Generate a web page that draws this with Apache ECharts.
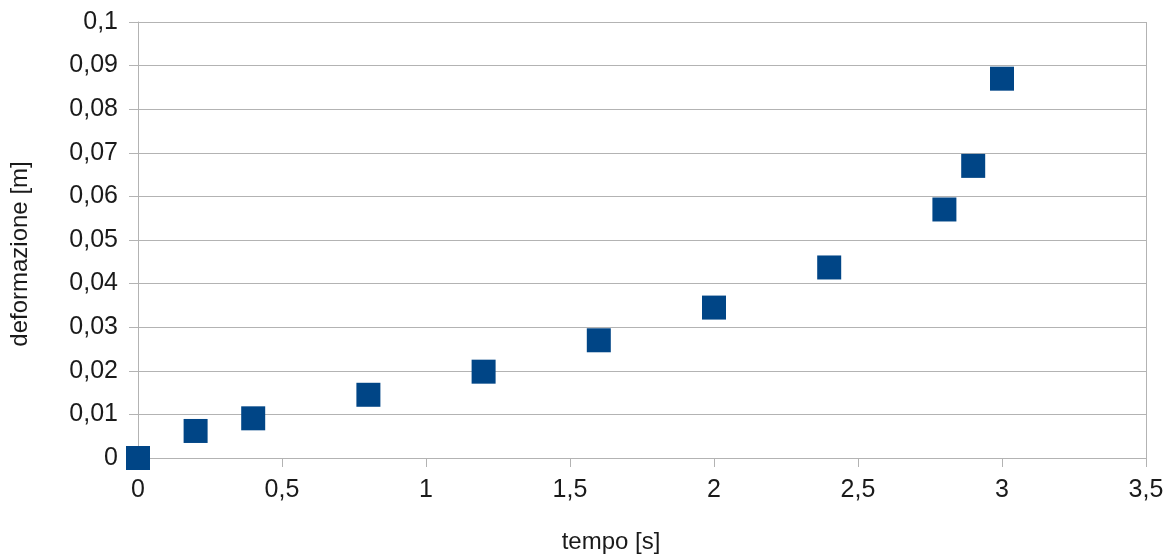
<!DOCTYPE html>
<html>
<head>
<meta charset="utf-8">
<script src="https://cdn.jsdelivr.net/npm/echarts@6/dist/echarts.min.js"></script>
<style>
  html, body { margin: 0; padding: 0; background: #fff; }
  #chart { width: 1174px; height: 559px; }
</style>
</head>
<body>
<div id="chart"></div>
<script>
// tempo [s] vs deformazione [m]
const tempo = [0, 0.2, 0.4, 0.8, 1.2, 1.6, 2.0, 2.4, 2.8, 2.9, 3.0];
const deformazione = [0, 0.0062, 0.0091, 0.0145, 0.0198, 0.027, 0.0345, 0.0437, 0.057, 0.067, 0.087];

const points = tempo.map((t, i) => [t, deformazione[i]]);

// italian decimal comma
function comma(v) {
  return String(Math.round(v * 1000) / 1000).replace('.', ',');
}

const chart = echarts.init(document.getElementById('chart'));
chart.setOption({
  animation: false,
  backgroundColor: '#fff',
  textStyle: { fontFamily: 'Liberation Sans, Arial, sans-serif' },
  grid: { left: 138, top: 22, right: 28, bottom: 100 },
  xAxis: {
    type: 'value',
    min: 0, max: 3.5, interval: 0.5,
    name: 'tempo [s]',
    nameLocation: 'middle',
    nameGap: 72,
    // name sits a bit left of the plot centre in the original
    nameTextStyle: { fontSize: 24, color: '#1a1a1a', padding: [0, 62, 0, 0] },
    axisLine: { show: true, lineStyle: { color: '#b3b3b3' } },
    axisTick: { show: true, length: 9, lineStyle: { color: '#b3b3b3' } },
    axisLabel: { fontSize: 25, color: '#1a1a1a', margin: 20, formatter: comma },
    splitLine: { show: false }
  },
  yAxis: {
    type: 'value',
    min: 0, max: 0.1, interval: 0.01,
    name: 'deformazione [m]',
    nameLocation: 'middle',
    nameGap: 106,
    nameRotate: 90,
    nameTextStyle: { fontSize: 24, color: '#1a1a1a', padding: [0, 28, 0, 0] },
    axisLine: { show: true, lineStyle: { color: '#b3b3b3' } },
    axisTick: { show: true, length: 9, lineStyle: { color: '#b3b3b3' } },
    axisLabel: { fontSize: 25, color: '#1a1a1a', margin: 20, formatter: comma },
    splitLine: { show: true, lineStyle: { color: '#b3b3b3', width: 1 } }
  },
  series: [
    {
      type: 'scatter',
      data: points,
      symbol: 'rect',
      symbolSize: 24,
      itemStyle: { color: '#004586', opacity: 1 }
    },
    {
      // right-hand frame line of plot area
      type: 'line',
      data: [],
      markLine: {
        silent: true,
        symbol: 'none',
        label: { show: false },
        lineStyle: { color: '#b3b3b3', type: 'solid', width: 1 },
        data: [{ xAxis: 3.5 }]
      }
    }
  ]
});
</script>
</body>
</html>
